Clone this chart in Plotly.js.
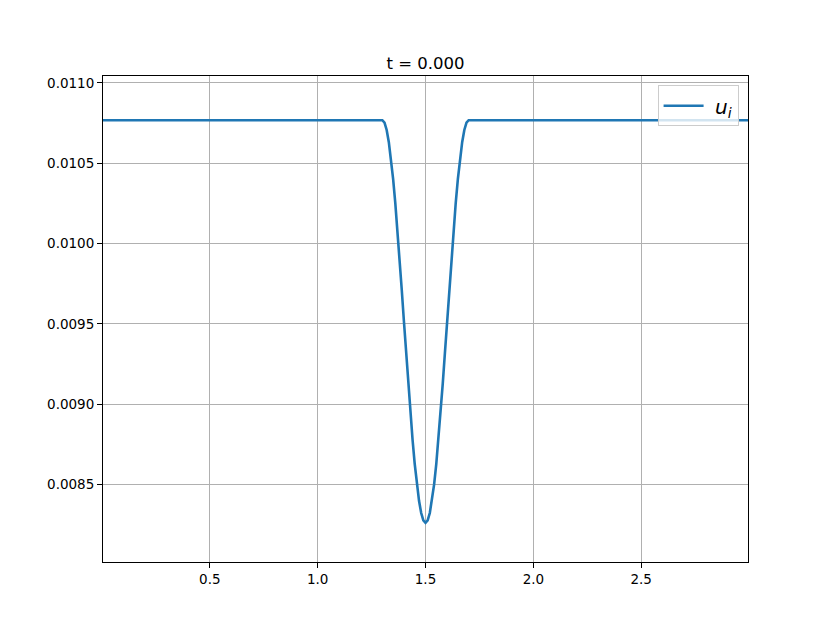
<!DOCTYPE html>
<html>
<head>
<meta charset="utf-8">
<script src="https://cdn.plot.ly/plotly-3.0.1.min.js"></script>
<style>html,body{margin:0;padding:0;background:#fff;}#plot{width:831px;height:632px;}</style>
</head>
<body>
<div id="plot"></div>
<script>
const xVals = [0.005,1.30,1.31,1.32,1.33,1.34,1.35,1.36,1.37,1.38,1.39,1.40,1.41,1.42,1.43,1.44,1.45,1.46,1.47,1.48,1.49,1.50,1.51,1.52,1.53,1.54,1.55,1.56,1.57,1.58,1.59,1.60,1.61,1.62,1.63,1.64,1.65,1.66,1.67,1.68,1.69,1.70,2.995];
const uVals = [0.010768,0.010768,0.010753,0.010707,0.010631,0.010529,0.010401,0.010251,0.010084,0.009902,0.009711,0.009515,0.009319,0.009128,0.008946,0.008779,0.008629,0.008501,0.008399,0.008323,0.008277,0.008262,0.008277,0.008323,0.008399,0.008501,0.008629,0.008779,0.008946,0.009128,0.009319,0.009515,0.009711,0.009902,0.010084,0.010251,0.010401,0.010529,0.010631,0.010707,0.010753,0.010768,0.010768];
const xTicks = [0.5,1.0,1.5,2.0,2.5];
const yTicks = [0.0085,0.0090,0.0095,0.0100,0.0105,0.0110];
const titleText = 't = 0.000';
const legendName = ' <i>u</i><sub><i>i</i></sub>';

const font = 'DejaVu Sans, sans-serif';
const axisCommon = {
  showline: true, mirror: true, linecolor: '#000', linewidth: 1,
  ticks: 'outside', ticklen: 5, tickwidth: 1, tickcolor: '#000',
  showgrid: true, gridcolor: '#b0b0b0', gridwidth: 1,
  zeroline: false, tickfont: {family: font, size: 13.5, color: '#000'}
};
Plotly.newPlot('plot', [{
  x: xVals, y: uVals, type: 'scatter', mode: 'lines', name: legendName,
  line: {color: '#1f77b4', width: 2.6}
}], {
  width: 831, height: 632,
  margin: {l: 103.3, r: 83.3, t: 75.7, b: 70},
  paper_bgcolor: '#fff', plot_bgcolor: '#fff',
  title: {text: titleText, font: {family: font, size: 16.5, color: '#000'},
    x: 0.5, xref: 'paper', y: 1, yref: 'paper', yanchor: 'bottom', pad: {b: 7}},
  xaxis: Object.assign({}, axisCommon, {range: [0.005, 2.995], tickvals: xTicks, tickformat: '.1f'}),
  yaxis: Object.assign({}, axisCommon, {range: [0.008018, 0.011043], tickvals: yTicks, tickformat: '.4f'}),
  showlegend: true,
  legend: {x: 0.9854, xanchor: 'right', y: 0.981, yanchor: 'top', itemwidth: 40,
    bgcolor: 'rgba(255,255,255,0.8)', bordercolor: '#cccccc', borderwidth: 1,
    font: {family: font, size: 20, color: '#000'}}
}, {displayModeBar: false, staticPlot: true});
</script>
</body>
</html>
